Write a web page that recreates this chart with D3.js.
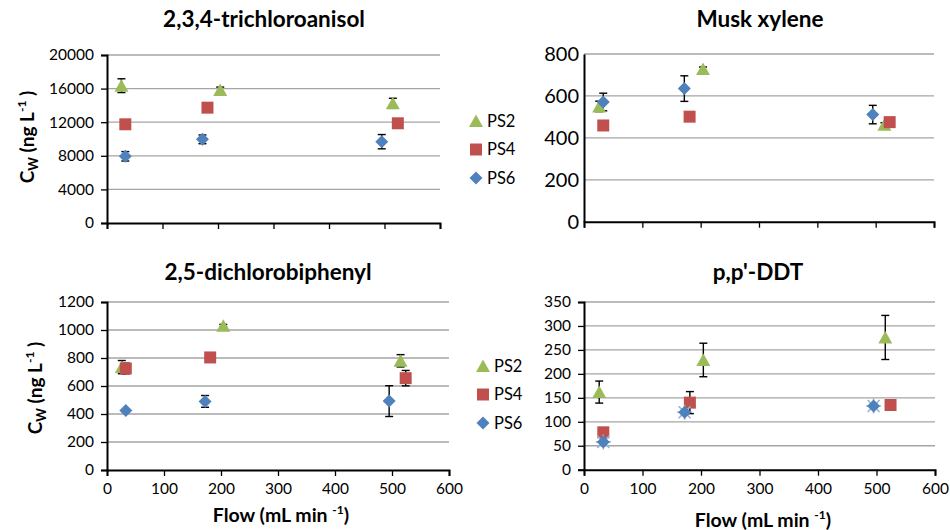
<!DOCTYPE html>
<html><head><meta charset="utf-8">
<script src="https://cdn.jsdelivr.net/npm/d3@7"></script>
<style>
html,body{margin:0;padding:0;background:#fff;}
svg{display:block;font-family:Lato,"Open Sans",sans-serif;}
</style></head>
<body><svg id="c" width="950" height="530"></svg>
<script>
// ---------- data ----------
const seriesNames = ["PS2", "PS4", "PS6"];
const flowPS2 = [26, 204, 515];
const flowPS4 = [33, 181, 524];
const flowPS6 = [33, 172, 495];

const titles = ["2,3,4-trichloroanisol", "Musk xylene", "2,5-dichlorobiphenyl", "p,p'-DDT"];

const tcaPS2 = [16350, 15830, 14250], tcaPS2err = [820, 350, 600];
const tcaPS4 = [11750, 13730, 11870], tcaPS4err = [150, 400, 150];
const tcaPS6 = [7940, 9960, 9680],    tcaPS6err = [560, 520, 850];

const muskPS2 = [550, 728, 462], muskPS2err = [25, 10, 10];
const muskPS4 = [459, 501, 475], muskPS4err = [5, 5, 5];
const muskPS6 = [571, 635, 511], muskPS6err = [42, 61, 44];

const dcbPS2 = [735, 1030, 780], dcbPS2err = [47, 10, 44];
const dcbPS4 = [725, 804, 656],  dcbPS4err = [38, 5, 55];
const dcbPS6 = [425, 490, 492],  dcbPS6err = [5, 42, 110];

const ddtPS2 = [162, 229, 276], ddtPS2err = [23, 35, 46];
const ddtPS4 = [78, 140, 135],  ddtPS4err = [3, 23, 3];
const ddtPS6 = [58, 120, 133],  ddtPS6err = [2, 2, 2];

const tcaTicks = [0, 4000, 8000, 12000, 16000, 20000];
const muskTicks = [0, 200, 400, 600, 800];
const dcbTicks = [0, 200, 400, 600, 800, 1000, 1200];
const ddtTicks = [0, 50, 100, 150, 200, 250, 300, 350];
const flowTicks = [0, 100, 200, 300, 400, 500, 600];

// ---------- styles ----------
const colors = {PS2: "#9BBB59", PS4: "#C0504D", PS6: "#4F81BD"};
const flows = {PS2: flowPS2, PS4: flowPS4, PS6: flowPS6};

const panels = [
  {title: titles[0], vals: {PS2: tcaPS2, PS4: tcaPS4, PS6: tcaPS6}, errs: {PS2: tcaPS2err, PS4: tcaPS4err, PS6: tcaPS6err},
   ticks: tcaTicks, xr: [107, 440], yr: [223, 55], xLabels: false, yTickMarks: true, tickFont: 15.5,
   titlePos: [264, 27], yLabel: [27, 137], xLabel: null, legend: [476, 121]},
  {title: titles[1], vals: {PS2: muskPS2, PS4: muskPS4, PS6: muskPS6}, errs: {PS2: muskPS2err, PS4: muskPS4err, PS6: muskPS6err},
   ticks: muskTicks, xr: [584, 934], yr: [221.7, 54], xLabels: false, yTickMarks: false, tickFont: 20,
   titlePos: [760, 27], yLabel: null, xLabel: null, legend: null},
  {title: titles[2], vals: {PS2: dcbPS2, PS4: dcbPS4, PS6: dcbPS6}, errs: {PS2: dcbPS2err, PS4: dcbPS4err, PS6: dcbPS6err},
   ticks: dcbTicks, xr: [107, 449], yr: [470, 302], xLabels: true, yTickMarks: true, tickFont: 15.5,
   titlePos: [268, 280], yLabel: [35, 388], xLabel: [281, 522], legend: [483, 366]},
  {title: titles[3], vals: {PS2: ddtPS2, PS4: ddtPS4, PS6: ddtPS6}, errs: {PS2: ddtPS2err, PS4: ddtPS4err, PS6: ddtPS6err},
   ticks: ddtTicks, xr: [584, 935], yr: [469.7, 302], xLabels: true, yTickMarks: true, tickFont: 15.5,
   titlePos: [758, 280], yLabel: null, xLabel: [763, 527], legend: null, star: true}
];

const svg = d3.select("#c");

function markerPath(name) {
  if (name === "PS2") return "M0,-6.5L7,6L-7,6Z";
  if (name === "PS4") return "M-6,-6H6V6H-6Z";
  return "M0,-6.5L6.5,0L0,6.5L-6.5,0Z";
}

panels.forEach(p => {
  const g = svg.append("g");
  const x = d3.scaleLinear().domain([0, 600]).range(p.xr);
  const y = d3.scaleLinear().domain([0, d3.max(p.ticks)]).range(p.yr);

  // gridlines
  g.append("g").selectAll("line").data(p.ticks.filter(t => t > 0)).join("line")
    .attr("x1", p.xr[0]).attr("x2", p.xr[1])
    .attr("y1", d => y(d)).attr("y2", d => y(d))
    .attr("stroke", "#A5A5A5").attr("stroke-width", 1.3);

  // y axis
  const ya = d3.axisLeft(y).tickValues(p.ticks).tickFormat(d3.format("d")).tickSizeOuter(0)
    .tickSize(p.yTickMarks ? 6 : 0).tickPadding(p.yTickMarks ? 7 : 5);
  const yg = g.append("g").attr("transform", `translate(${p.xr[0]},0)`).call(ya);
  yg.select(".domain").attr("stroke", "#000").attr("stroke-width", 2);
  yg.selectAll(".tick line").attr("stroke", "#000").attr("stroke-width", 1.3);
  yg.selectAll("text").attr("font-size", p.tickFont).attr("fill", "#000")
    .attr("font-family", "Lato");

  // x axis
  const xa = d3.axisBottom(x).tickValues(flowTicks).tickFormat(d3.format("d")).tickSizeOuter(0).tickSize(6).tickPadding(7);
  const xg = g.append("g").attr("transform", `translate(0,${p.yr[0]})`).call(xa);
  xg.select(".domain").attr("stroke", "#000").attr("stroke-width", 2);
  xg.selectAll(".tick line").attr("stroke", "#000").attr("stroke-width", 1.3);
  xg.selectAll("text").attr("font-size", 15.5).attr("fill", "#000").attr("font-family", "Lato")
    .style("display", p.xLabels ? null : "none");

  // title
  g.append("text").attr("x", p.titlePos[0]).attr("y", p.titlePos[1]).attr("text-anchor", "middle")
    .attr("font-size", 22.5).attr("font-weight", "bold").text(p.title);

  // y label
  if (p.yLabel) {
    const t = g.append("text").attr("transform", `translate(${p.yLabel[0]},${p.yLabel[1]}) rotate(-90)`)
      .attr("text-anchor", "middle").attr("font-size", 19).attr("font-weight", "bold").attr("dy", "0.35em");
    t.append("tspan").text("C");
    t.append("tspan").attr("font-size", 13).attr("dy", 4).text("W");
    t.append("tspan").attr("dy", -4).text(" (ng L");
    t.append("tspan").attr("font-size", 12).attr("dy", -8).text("-1");
    t.append("tspan").attr("dy", 8).text(" )");
  }
  // x label
  if (p.xLabel) {
    const t = g.append("text").attr("x", p.xLabel[0]).attr("y", p.xLabel[1]).attr("text-anchor", "middle")
      .attr("font-size", 19.5).attr("font-weight", "bold");
    t.append("tspan").text("Flow (mL min ");
    t.append("tspan").attr("font-size", 12).attr("dy", -8).text("-1");
    t.append("tspan").attr("dy", 8).text(")");
  }

  // error bars
  seriesNames.forEach(s => {
    const pts = flows[s].map((f, i) => ({f, v: p.vals[s][i], e: p.errs[s][i]}));
    const eg = g.append("g").attr("stroke", "#000").attr("stroke-width", 1.4);
    pts.forEach(d => {
      const cx = x(d.f), y1 = y(d.v + d.e), y2 = y(d.v - d.e);
      eg.append("line").attr("x1", cx).attr("x2", cx).attr("y1", y1).attr("y2", y2);
      eg.append("line").attr("x1", cx - 4).attr("x2", cx + 4).attr("y1", y1).attr("y2", y1);
      eg.append("line").attr("x1", cx - 4).attr("x2", cx + 4).attr("y1", y2).attr("y2", y2);
    });
  });
  // markers
  seriesNames.forEach(s => {
    const pts = flows[s].map((f, i) => ({f, v: p.vals[s][i]}));
    const mg = g.append("g");
    pts.forEach(d => {
      const t = `translate(${x(d.f)},${y(d.v)})`;
      if (p.star && s === "PS6") {
        mg.append("path").attr("transform", t)
          .attr("d", "M-6,-6L6,6M-6,6L6,-6M0,-7.5V7.5M-7.5,0H7.5")
          .attr("stroke", "#95B3D7").attr("stroke-width", 1.6);
      }
      mg.append("path").attr("transform", t).attr("d", markerPath(s)).attr("fill", colors[s]);
    });
  });

  // legend
  if (p.legend) {
    const lg = g.append("g");
    seriesNames.forEach((s, i) => {
      const ly = p.legend[1] + i * 28.5;
      lg.append("path").attr("transform", `translate(${p.legend[0]},${ly})`)
        .attr("d", markerPath(s)).attr("fill", colors[s]);
      lg.append("text").attr("x", p.legend[0] + 11).attr("y", ly).attr("dy", "0.36em")
        .attr("font-size", 16.5).text(s);
    });
  }
});
</script>
</body></html>
